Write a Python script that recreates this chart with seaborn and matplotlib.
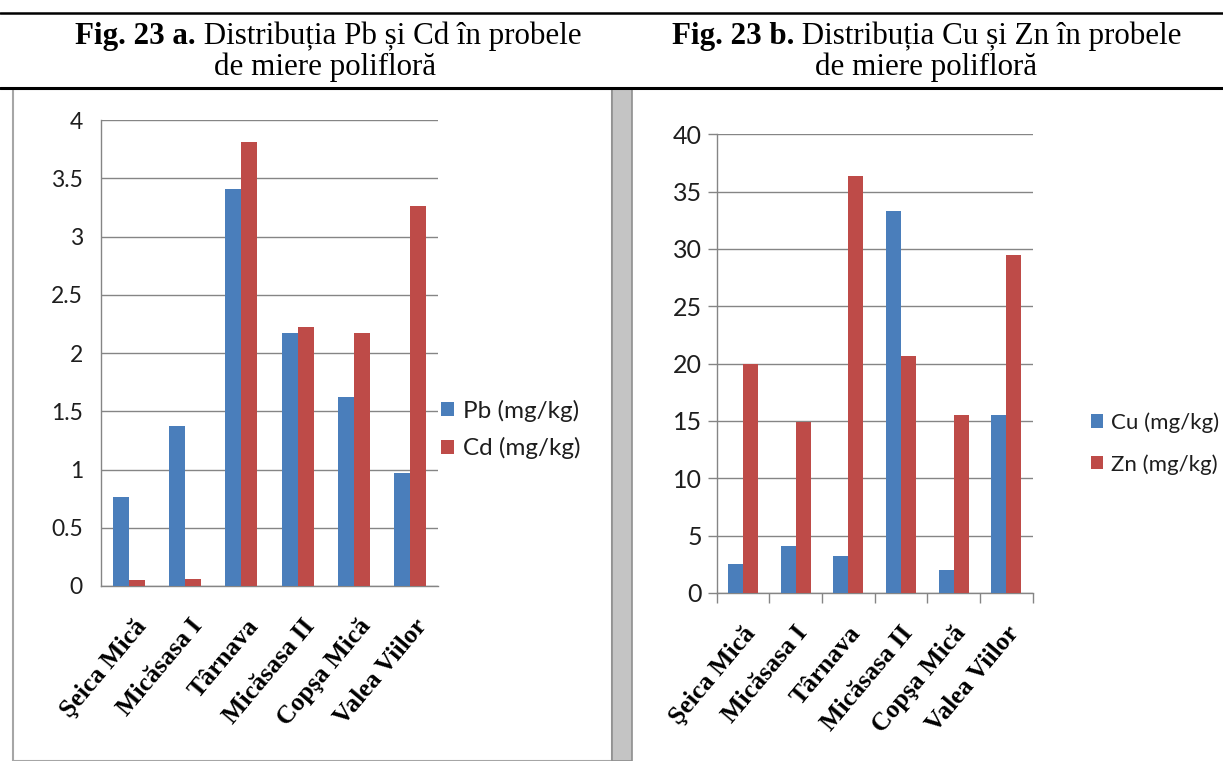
import matplotlib
matplotlib.use("Agg")
import matplotlib.pyplot as plt
import seaborn as sns
import pandas as pd
from matplotlib.lines import Line2D
from matplotlib.patches import Rectangle
from matplotlib.ticker import FixedLocator
from matplotlib.transforms import ScaledTranslation

W, H = 1223, 761

sns.set_theme(style="white")
plt.rcParams["font.family"] = ["Lato", "DejaVu Sans"]

# ---- data -------------------------------------------------------------
sites = ["Şeica Mică", "Micăsasa I", "Târnava", "Micăsasa II", "Copşa Mică", "Valea Viilor"]

pb = [0.76, 1.37, 3.41, 2.17, 1.62, 0.97]
cd = [0.05, 0.06, 3.81, 2.22, 2.17, 3.26]
cu = [2.55, 4.08, 3.25, 33.35, 1.98, 15.55]
zn = [20.0, 14.95, 36.4, 20.65, 15.55, 29.45]

left_series = ["Pb (mg/kg)", "Cd (mg/kg)"]
right_series = ["Cu (mg/kg)", "Zn (mg/kg)"]

left_yticks = [0, 0.5, 1, 1.5, 2, 2.5, 3, 3.5, 4]
left_ylabels = ["0", "0.5", "1", "1.5", "2", "2.5", "3", "3.5", "4"]
right_yticks = [0, 5, 10, 15, 20, 25, 30, 35, 40]
right_ylabels = ["0", "5", "10", "15", "20", "25", "30", "35", "40"]

title_a_bold = "Fig. 23 a."
title_a_rest = " Distribuția Pb și Cd în probele"
title_b_bold = "Fig. 23 b."
title_b_rest = " Distribuția Cu și Zn în probele"
title_line2 = "de miere polifloră"

# ---- styling ----------------------------------------------------------
BLUE = "#4A7EBB"
RED = "#BE4B48"
GRID = "#858585"
TEXT = "#1e1e1e"
SERIF = ["Liberation Serif", "DejaVu Serif"]

fig = plt.figure(figsize=(W / 100, H / 100), dpi=100)
fig.patch.set_facecolor("white")


def axes_px(x0, x1, ytop, ybot):
    return fig.add_axes([x0 / W, 1 - ybot / H, (x1 - x0) / W, (ybot - ytop) / H])


def long_frame(a, b, series):
    return pd.DataFrame({
        "site": sites * 2,
        "series": [series[0]] * len(sites) + [series[1]] * len(sites),
        "value": list(a) + list(b),
    })


def draw_chart(ax, df, series, ylim, yticks, ylabels, x_pad, x_shift, y_len, y_pad,
               boundary_ticks, leg_xy, leg_size, leg_spacing, tick_size, cat_size):
    sns.barplot(data=df, x="site", y="value", hue="series", order=sites,
                hue_order=series, palette=[BLUE, RED], width=0.571, gap=0,
                saturation=1, linewidth=0, ax=ax, zorder=3)
    ax.set_xlim(-0.5, len(sites) - 0.5)
    ax.set_ylim(*ylim)
    ax.set_xlabel("")
    ax.set_ylabel("")
    ax.set_yticks(yticks, ylabels)
    ax.yaxis.grid(True, color=GRID, linewidth=1)
    ax.set_axisbelow(True)
    for side in ("top", "right"):
        ax.spines[side].set_visible(False)
    for side in ("left", "bottom"):
        ax.spines[side].set_color(GRID)
        ax.spines[side].set_linewidth(1)

    ax.tick_params(axis="y", length=y_len, width=1, color=GRID, pad=y_pad,
                   labelsize=tick_size, labelcolor=TEXT, direction="out", left=True)
    ax.tick_params(axis="x", which="major", length=0, pad=x_pad, bottom=True)
    if boundary_ticks:
        ax.xaxis.set_minor_locator(FixedLocator([i - 0.5 for i in range(len(sites) + 1)]))
        ax.tick_params(axis="x", which="minor", length=7.2, width=1, color=GRID,
                       direction="out", bottom=True)

    ax.set_xticks(range(len(sites)), sites)
    shift = ScaledTranslation(x_shift / 100, 0, fig.dpi_scale_trans)
    for lab in ax.get_xticklabels():
        lab.set_rotation(50)
        lab.set_rotation_mode("anchor")
        lab.set_ha("right")
        lab.set_va("center")
        lab.set_fontfamily(SERIF)
        lab.set_fontweight("bold")
        lab.set_fontsize(cat_size)
        lab.set_color("black")
        lab.set_transform(lab.get_transform() + shift)

    handles, labels = ax.get_legend_handles_labels()
    ax.legend(handles, labels, loc="center left",
              bbox_to_anchor=(leg_xy[0] / W, 1 - leg_xy[1] / H),
              bbox_transform=fig.transFigure, frameon=False,
              handlelength=0.55, handleheight=0.55, handletextpad=0.35,
              labelspacing=leg_spacing, borderpad=0, borderaxespad=0,
              fontsize=leg_size, labelcolor=TEXT)


ax_a = axes_px(101, 438, 120, 586)
draw_chart(ax_a, long_frame(pb, cd, left_series), left_series, (0, 4),
           left_yticks, left_ylabels, x_pad=26, x_shift=13, y_len=0, y_pad=13,
           boundary_ticks=False, leg_xy=(441, 429.5), leg_size=17.5,
           leg_spacing=0.65, tick_size=16.5, cat_size=18.5)

ax_b = axes_px(716.7, 1032.7, 134.3, 593)
draw_chart(ax_b, long_frame(cu, zn, right_series), right_series, (0, 40),
           right_yticks, right_ylabels, x_pad=26, x_shift=8, y_len=6.5, y_pad=4,
           boundary_ticks=True, leg_xy=(1091, 443.5), leg_size=16,
           leg_spacing=0.95, tick_size=18, cat_size=18.5)

# ---- page frame: rules, panel borders and the grey gutter -------------
fig.add_artist(Line2D([0, 1], [1 - 13 / H] * 2, color="black", lw=1.8,
                      transform=fig.transFigure))
fig.add_artist(Rectangle((13 / W, 0), (612 - 13) / W, 1 - 89 / H,
                         transform=fig.transFigure, fill=False,
                         edgecolor="#a6a6a6", lw=1.5))
fig.add_artist(Rectangle((612 / W, 0), 20 / W, 1 - 89 / H,
                         transform=fig.transFigure, facecolor="#c4c4c4",
                         edgecolor="#8f8f8f", lw=1.2))
fig.add_artist(Line2D([0, 1], [1 - 87.5 / H] * 2, color="black", lw=2.2,
                      transform=fig.transFigure))

# ---- titles -----------------------------------------------------------
renderer = fig.canvas.get_renderer()
TITLE_SIZE = 22.3


def two_part_title(cx, baseline, bold, rest):
    t1 = fig.text(0, 1 - baseline / H, bold, fontfamily=SERIF, fontweight="bold",
                  fontsize=TITLE_SIZE, va="baseline", ha="left", color="black")
    t2 = fig.text(0, 1 - baseline / H, rest, fontfamily=SERIF,
                  fontsize=TITLE_SIZE, va="baseline", ha="left", color="black")
    w1 = t1.get_window_extent(renderer).width
    w2 = t2.get_window_extent(renderer).width
    x0 = cx - (w1 + w2) / 2
    t1.set_x(x0 / W)
    t2.set_x((x0 + w1) / W)


two_part_title(328, 44, title_a_bold, title_a_rest)
two_part_title(927, 44, title_b_bold, title_b_rest)
for cx in (325, 926):
    fig.text(cx / W, 1 - 75 / H, title_line2, fontfamily=SERIF,
             fontsize=TITLE_SIZE, va="baseline", ha="center", color="black")

fig.savefig("out.png", dpi=100, facecolor="white")
